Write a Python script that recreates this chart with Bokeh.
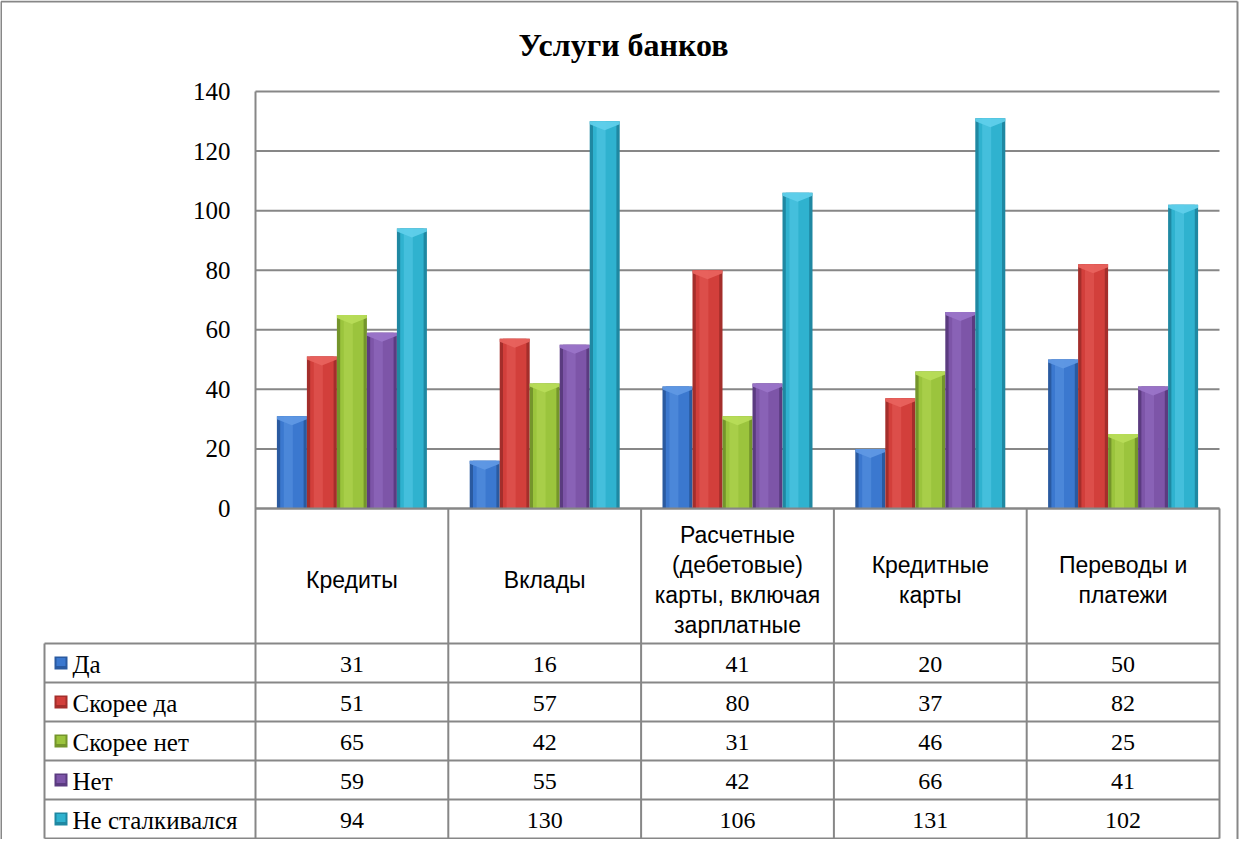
from bokeh.plotting import figure
from bokeh.models import Range1d
from bokeh.embed import file_html
from bokeh.resources import INLINE
from bokeh.core.properties import value

# ---------------- data ----------------
title_text = "Услуги банков"
categories = ["Кредиты", "Вклады", "Расчетные (дебетовые) карты, включая зарплатные",
              "Кредитные карты", "Переводы и платежи"]
category_lines = [["Кредиты"], ["Вклады"],
                  ["Расчетные", "(дебетовые)", "карты, включая", "зарплатные"],
                  ["Кредитные", "карты"], ["Переводы и", "платежи"]]
series_names = ["Да", "Скорее да", "Скорее нет", "Нет", "Не сталкивался"]
da = [31, 16, 41, 20, 50]
skoree_da = [51, 57, 80, 37, 82]
skoree_net = [65, 42, 31, 46, 25]
net = [59, 55, 42, 66, 41]
ne_stalkivalsya = [94, 130, 106, 131, 102]
series_values = [da, skoree_da, skoree_net, net, ne_stalkivalsya]
y_ticks = [0, 20, 40, 60, 80, 100, 120, 140]

# ---------------- styles / layout ----------------
base = ["#3b78cf", "#d23f3b", "#9bc43d", "#7d55a8", "#2fb2cf"]
dark = ["#2a5aa0", "#a42e2b", "#74952b", "#5b3b80", "#1f88a2"]
light = ["#5f98e4", "#e8625d", "#b7dc58", "#9a74c8", "#5fcfea"]
LINE = "#878787"
SERIF = value("Liberation Serif")
SANS = value("Liberation Sans")

W, H = 1239, 839
X0 = 255.0          # canvas x of category 0 start
CW = 192.8          # category width px
Y0 = 508.0          # canvas y of value 0
YS = 417.0 / 140.0  # px per unit
BWPX = 30.0
BW = BWPX / CW
TOP_ROW = 643.0
ROW_H = 39.0
TB = TOP_ROW + 5 * ROW_H

p = figure(width=W, height=H,
           x_range=Range1d(-X0 / CW, (W - X0) / CW),
           y_range=Range1d(-(H - Y0) / YS, Y0 / YS),
           x_axis_type=None, y_axis_type=None,
           output_backend="svg", toolbar_location=None,
           min_border=0, outline_line_color=None,
           background_fill_color="white", border_fill_color="white")
p.grid.visible = False
p.extra_x_ranges = {"px": Range1d(0, W)}
p.extra_y_ranges = {"px": Range1d(H, 0)}
PX = dict(x_range_name="px", y_range_name="px")

# outer border
p.segment(x0=[0.5, 0.5, W - 2], y0=[1, 1, 1], x1=[W - 2, 0.5, W - 2], y1=[1, H, H],
          line_color=LINE, line_width=2, **PX)

# title
p.text(x=[623], y=[44], text=[title_text], text_font=SERIF, text_font_size="32px",
       text_font_style="bold", text_align="center", text_baseline="middle",
       text_color="black", **PX)

# gridlines
n_t = len(y_ticks)
p.segment(x0=[0] * n_t, x1=[len(categories)] * n_t, y0=y_ticks, y1=y_ticks,
          line_color=LINE, line_width=2)

# tick labels
p.text(x=[0] * n_t, y=y_ticks, text=[str(t) for t in y_ticks], x_offset=-25,
       text_align="right", text_baseline="middle", text_font=SERIF,
       text_font_size="25px", text_color="black")

# bars
ncat = len(categories)
for j, vals in enumerate(series_values):
    xs = [k + 0.5 + (j - 2) * BW for k in range(ncat)]
    p.vbar(x=xs, top=vals, bottom=0, width=BW, fill_color=dark[j], line_color=None)
    p.vbar(x=xs, top=vals, bottom=0, width=BW * 0.78, fill_color=base[j], line_color=None)
    p.vbar(x=[x - BW * 0.12 for x in xs], top=vals, bottom=0, width=BW * 0.3,
           fill_color=light[j], fill_alpha=0.45, line_color=None)
    # top cap (chevron)
    h1 = 3.0 / YS
    h2 = 9.0 / YS
    cx, cy = [], []
    for x, v in zip(xs, vals):
        l, r = x - BW * 0.5, x + BW * 0.5
        cx.append([l, r, r, x, l])
        cy.append([v, v, v - h1, v - h2, v - h1])
    p.patches(xs=cx, ys=cy, fill_color=light[j], line_color=None, fill_alpha=0.95)

# axis line at 0 and left axis line
p.segment(x0=[0], x1=[ncat], y0=[0], y1=[0], line_color=LINE, line_width=2)
p.segment(x0=[X0], x1=[X0], y0=[Y0 - 140 * YS], y1=[TB], line_color=LINE,
          line_width=2, **PX)

# table: header verticals
vx = [X0 + k * CW for k in range(1, ncat + 1)]
p.segment(x0=vx, x1=vx, y0=[Y0] * len(vx), y1=[TB] * len(vx),
          line_color=LINE, line_width=2, **PX)
# body horizontals
hy = [TOP_ROW + i * ROW_H for i in range(len(series_names) + 1)]
p.segment(x0=[44] * len(hy), x1=[X0 + ncat * CW] * len(hy), y0=hy, y1=hy,
          line_color=LINE, line_width=2, **PX)
p.segment(x0=[44], x1=[44], y0=[TOP_ROW], y1=[TB], line_color=LINE, line_width=2, **PX)

# header labels
hx, hyy, ht = [], [], []
for k, lines in enumerate(category_lines):
    n = len(lines)
    for i, s in enumerate(lines):
        hx.append(X0 + (k + 0.5) * CW)
        hyy.append(579 + (i - (n - 1) / 2.0) * 30)
        ht.append(s)
p.text(x=hx, y=hyy, text=ht, text_font=SANS, text_font_size="23px",
       text_align="center", text_baseline="middle", text_color="black", **PX)

# body values
bx, by, bt = [], [], []
for j, vals in enumerate(series_values):
    for k, v in enumerate(vals):
        bx.append(X0 + (k + 0.5) * CW)
        by.append(TOP_ROW + j * ROW_H + ROW_H / 2 + 1)
        bt.append(str(v))
p.text(x=bx, y=by, text=bt, text_font=SERIF, text_font_size="24px",
       text_align="center", text_baseline="middle", text_color="black", **PX)

# legend keys and labels
ry = [TOP_ROW + j * ROW_H + ROW_H / 2 for j in range(len(series_names))]
p.rect(x=[60.5] * len(ry), y=ry, width=13, height=13, fill_color=dark,
       line_color=None, **PX)
p.rect(x=[60.5] * len(ry), y=[v - 1 for v in ry], width=9, height=8, fill_color=base,
       line_color=None, **PX)
p.text(x=[72] * len(ry), y=[v + 1 for v in ry], text=series_names, text_font=SERIF,
       text_font_size="25px", text_align="left", text_baseline="middle",
       text_color="black", **PX)

open("out.html", "w").write(file_html(p, INLINE))
